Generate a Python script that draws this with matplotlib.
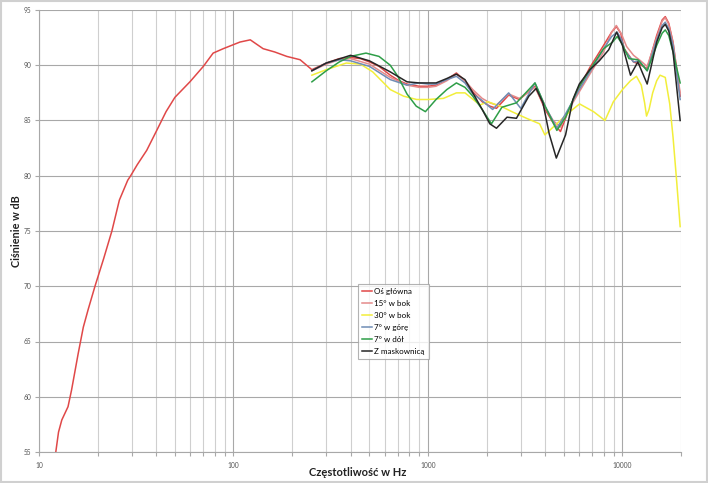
import numpy as np
import matplotlib
matplotlib.use("Agg")
import matplotlib.pyplot as plt
from matplotlib.patches import Rectangle
from matplotlib.ticker import LogLocator, FixedLocator, NullFormatter, FuncFormatter

plt.rcParams['font.family'] = ['Lato', 'DejaVu Sans']

# Oś główna (0°) - full range
f_axis = [12.2, 12.6, 13.1, 14.1, 14.7, 15.9, 16.9, 17.9, 19.4, 21.5, 23.7, 25.9,
          28.6, 29.6, 32, 35.8, 40.3, 45, 50, 59.7, 70, 78.6, 88.6, 108, 122, 142,
          163, 188, 220, 253, 300, 350, 400, 450, 500, 560, 640, 710, 780, 900,
          1000, 1100, 1250, 1400, 1550, 1700, 1900, 2080, 2250, 2600, 2950, 3550,
          4000, 4400, 4800, 5300, 6000, 6800, 8000, 8800, 9300, 9800, 10200, 11400, 12200,
          13400, 15000, 16000, 16600, 17300, 18200, 19800]
db_axis = [55.0, 56.8, 57.9, 59.1, 60.6, 63.9, 66.3, 67.9, 70.0, 72.5, 75.0, 77.8,
           79.6, 80.0, 81.0, 82.3, 84.1, 85.8, 87.1, 88.5, 89.9, 91.1, 91.5, 92.1, 92.3, 91.5,
           91.2, 90.8, 90.5, 89.6, 90.2, 90.6, 90.7, 90.6, 90.3, 89.9, 89.1, 88.6, 88.3, 88.1,
           88.1, 88.2, 88.7, 89.3, 88.6, 87.6, 86.7, 86.3, 86.1, 87.3, 86.9, 88.1,
           86.0, 84.8, 84.0, 86.0, 88.0, 89.8, 91.8, 93.0, 93.5, 92.9, 91.5, 90.3, 90.1,
           89.7, 92.7, 94.1, 94.4, 93.8, 92.1, 87.2]

# 15° w bok
f_15 = [253, 300, 350, 400, 500, 640, 780, 900, 1000, 1100, 1250, 1400, 1550, 1700,
        1900, 2080, 2250, 2600, 2950, 3550, 4000, 4400, 4800, 5300, 6000, 6800, 8000,
        8800, 9300, 9900, 10500, 11400, 12200, 13400, 15000, 16000, 16600, 17300, 18200, 19800]
db_15 = [89.5, 90.1, 90.5, 90.6, 90.1, 88.9, 88.2, 88.0, 88.0, 88.1, 88.6, 89.2, 88.6, 87.8,
         87.0, 86.6, 86.4, 87.4, 87.0, 88.0, 86.2, 85.0, 84.4, 86.0, 87.6, 89.2, 91.2,
         93.0, 93.6, 92.8, 91.7, 90.9, 90.5, 89.9, 92.5, 94.0, 94.3, 93.7, 92.0, 87.5]

# 30° w bok
f_30 = [253, 300, 380, 450, 520, 640, 750, 875, 1000, 1200, 1400, 1550, 1850, 2030,
        2430, 2700, 3210, 3750, 3990, 4590, 5370, 6020, 7100, 8130, 8980, 10000,
        11000, 11800, 12500, 13000, 13300, 13700, 14300, 15000, 15600, 16600, 17500,
        18200, 19000, 19800]
db_30 = [89.1, 89.6, 90.2, 90.1, 89.4, 87.8, 87.2, 86.9, 86.9, 87.0, 87.5, 87.5, 86.4, 86.7,
         86.2, 85.8, 85.2, 84.7, 83.7, 84.7, 85.8, 86.5, 85.8, 85.0, 86.7, 87.8,
         88.6, 89.0, 88.2, 86.6, 85.4, 86.0, 87.5, 88.6, 89.1, 88.9, 86.5,
         83.5, 79.5, 75.4]

# 7° w górę
f_up = [253, 300, 350, 400, 500, 640, 780, 900, 1000, 1100, 1250, 1400, 1550, 1700,
        1870, 2150, 2600, 3000, 3550, 4000, 4600, 5100, 5900, 6800, 8000, 8800, 9400, 9900,
        10300, 11400, 12200, 13400, 15000, 16000, 16600, 17300, 18200, 19800]
db_up = [89.5, 90.2, 90.5, 90.4, 89.9, 88.7, 88.2, 88.4, 88.3, 88.3, 88.7, 89.0, 88.4, 87.4,
         86.9, 86.0, 87.5, 86.1, 88.4, 86.3, 84.3, 85.6, 87.6, 89.4, 91.5, 92.6, 93.0, 92.3,
         91.3, 90.3, 90.4, 89.5, 92.3, 93.6, 93.9, 93.3, 91.8, 86.9]

# 7° w dół
f_down = [253, 300, 350, 400, 480, 560, 640, 700, 780, 870, 970, 1100, 1250, 1400,
          1550, 1700, 1900, 2120, 2400, 2850, 3550, 4000, 4600, 5100, 5900, 6800,
          8000, 8900, 9400, 9900, 10800, 12000, 13400, 15000, 16000, 16600, 17300, 18200, 19800]
db_down = [88.5, 89.5, 90.3, 90.8, 91.1, 90.8, 90.0, 89.0, 87.4, 86.3, 85.8, 86.9, 87.8, 88.4,
           88.0, 87.2, 86.0, 84.7, 86.2, 86.6, 88.4, 86.3, 84.1, 85.3, 87.9, 89.6,
           91.5, 92.1, 92.6, 92.0, 90.6, 90.5, 89.5, 91.8, 92.9, 93.2, 92.7, 91.2, 88.4]

# Z maskownicą
f_grill = [253, 300, 400, 500, 640, 780, 900, 1000, 1100, 1250, 1400, 1550, 1700, 1900,
           2080, 2250, 2550, 2850, 3300, 3600, 3900, 4200, 4570, 5100, 5560, 6000,
           6800, 7600, 8500, 9330, 10000, 11000, 12000, 13400, 15000, 16000, 16600, 17300,
           18200, 19800]
db_grill = [89.5, 90.2, 90.9, 90.4, 89.4, 88.5, 88.4, 88.4, 88.4, 88.8, 89.2, 88.7, 87.5, 86.0,
            84.7, 84.3, 85.3, 85.2, 87.2, 87.9, 86.6, 83.8, 81.6, 83.7, 86.9, 88.3,
            89.6, 90.4, 91.4, 93.0, 91.8, 89.1, 90.3, 88.3, 92.1, 93.4, 93.7, 93.1,
            91.2, 85.0]

series = [
    ("Oś główna", f_axis, db_axis, "#e04848"),
    ("15° w bok", f_15, db_15, "#e48a8a"),
    ("30° w bok", f_30, db_30, "#f2ee3a"),
    ("7° w górę", f_up, db_up, "#6f8db5"),
    ("7° w dół", f_down, db_down, "#2e9e48"),
    ("Z maskownicą", f_grill, db_grill, "#262626"),
]

fig = plt.figure(figsize=(7.08, 4.83), dpi=100)
ax = fig.add_axes([39 / 708, 1 - 452 / 483, (681 - 39) / 708, (452 - 10) / 483])

for label, f, db, color in series:
    ax.plot(f, db, color=color, lw=1.1, label=label, solid_joinstyle="round")

ax.set_xscale("log")
ax.set_xlim(10, 20000)
ax.set_ylim(55, 95)
ax.set_yticks(np.arange(55, 96, 5))
ax.xaxis.set_major_locator(FixedLocator([10, 100, 1000, 10000]))
ax.xaxis.set_major_formatter(FuncFormatter(lambda v, p: f"{int(v)}"))
ax.xaxis.set_minor_locator(LogLocator(base=10, subs=np.arange(2, 10), numticks=20))
ax.xaxis.set_minor_formatter(NullFormatter())

ax.grid(True, which="major", axis="both", color="#a8a8a8", lw=0.8)
ax.grid(True, which="minor", axis="x", color="#cfcfcf", lw=0.8)
ax.set_axisbelow(True)

for s in ["top", "right"]:
    ax.spines[s].set_visible(False)
for s in ["left", "bottom"]:
    ax.spines[s].set_color("#a8a8a8")
    ax.spines[s].set_linewidth(0.8)

ax.tick_params(axis="both", which="both", colors="#a8a8a8", labelcolor="#555555",
               labelsize=4.8, length=3, width=0.8)
ax.tick_params(axis="x", pad=4)
ax.tick_params(axis="y", pad=2.5)

fig.text(358 / 708, 1 - 472 / 483, "Częstotliwość w Hz", fontsize=8, fontweight="bold",
         color="#222222", ha="center", va="center")
fig.text(17 / 708, 1 - 231 / 483, "Ciśnienie w dB", fontsize=7.8, fontweight="bold",
         color="#222222", ha="center", va="center", rotation=90)

leg = ax.legend(loc="upper left", bbox_to_anchor=(358 / 708, 1 - 284 / 483),
                bbox_transform=fig.transFigure, fontsize=5.8, frameon=True,
                fancybox=False, handlelength=1.3, handletextpad=0.2, labelspacing=0.62,
                borderpad=0.5, borderaxespad=0)
leg.get_frame().set_edgecolor("#a0a0a0")
leg.get_frame().set_linewidth(0.8)

fig.patches.append(Rectangle((0.002, 0.003), 0.996, 0.994, transform=fig.transFigure,
                             fill=False, edgecolor="#d0d0d0", lw=1.5))

fig.savefig("out.png", dpi=100)
